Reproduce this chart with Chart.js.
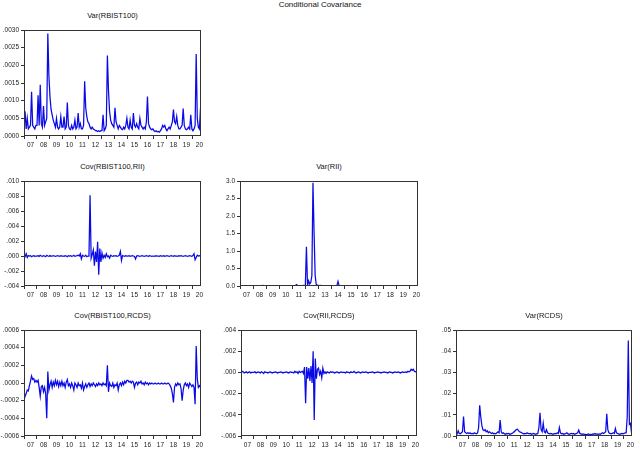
<!DOCTYPE html>
<html><head><meta charset="utf-8">
<script src="https://cdn.jsdelivr.net/npm/chart.js@4.4.0/dist/chart.umd.min.js"></script>
<style>
body{margin:0;background:#fff;width:640px;height:449px;overflow:hidden;position:relative;font-family:"Liberation Sans",Arial,sans-serif;}
.ttl{position:absolute;font-size:7.5px;line-height:8px;color:#111;text-align:center;white-space:nowrap;}
canvas{position:absolute;}
</style></head><body>
<div class="ttl" style="left:0;width:640px;top:1px;font-size:8px;">Conditional Covariance</div>
<script>
// ---- categories ----
const yearLabels = ['07','08','09','10','11','12','13','14','15','16','17','18','19','20'];
const firstYear = 2007;
const months = [];
for (let i = 0; i < 164; i++) months.push(firstYear + i / 12);

// ---- series (monthly) ----
// Var(RBIST100), x1e-4
const varRBIST100 = [
 2,7,2,5,2,2.5,3,12.5,3,2.5,2,3,
 3,11.5,3,14.5,3.5,2.5,8.5,3,4,5,29,17,
 11,7.5,6,4.5,3.5,2.5,5,2.5,2,2.5,5.5,2.5,
 2.5,5.5,2,2.5,9.5,3,2,1.8,3,2,2.5,4.5,
 2,2.5,6.5,2.5,3.5,2,2,3,15.5,8,5.5,4,
 3.5,2.5,2,2.5,2,1.8,1.5,1.5,1.3,1.5,1.3,1.5,
 1.5,6,1.5,2,3,22.8,13,7,4.5,3.5,3,2.5,
 8,4,3,2,3,2.5,2,1.8,2.5,2,3,5,
 2.5,2,4.5,2.5,2,6.5,3,2.5,3.5,2.5,2,5,
 3,2.5,2,2.5,2,4,11.2,3.5,2.5,2,1.8,2,
 1.5,1.3,1.5,1.2,1.3,1.1,1.5,2,3,2.5,3,2,
 1.5,2,2.5,2,3,4,7.5,4,3.5,5.5,3,2,
 2,2.5,3,7.8,3,2,1.8,2,2.5,2,6,2,
 1.5,2,3,23.2,5,2.5,2,8
];
// Cov(RBIST100,RII), x1e-3
const covRBIST100_RII = [
 0.1,-0.1,0.3,-0.2,0.05,0,0.05,-0.1,0,0.05,-0.05,0,
 0,0.05,-0.05,0.1,0,-0.05,0.05,0,-0.1,0.1,0,-0.05,
 0.05,-0.05,0,0.05,0,-0.05,0,0.05,0,-0.05,0.05,0,
 0,-0.05,0.05,0,-0.1,0.05,0,0.05,-0.05,0,0.1,-0.05,
 0,0.05,0.1,0,0.3,-0.4,0.1,0,-0.05,0.1,-0.1,0,
 0,8.1,-0.3,0.2,0.8,-1.3,0.6,-0.8,1.9,-2.5,1.0,-0.8,
 0.4,-0.3,0.1,-0.2,0.3,-0.1,0,-0.3,0.1,0,-0.05,0.05,
 0,0.05,-0.05,0,0.1,0.6,-0.6,0.05,0,-0.05,0.05,0,
 0,0.05,-0.05,0,0.05,0,-0.05,-0.4,0,0.05,0,-0.05,
 0,0.05,0,-0.05,0,0.05,0,-0.05,0.05,0,-0.05,0,
 0,-0.05,0.05,0,0,-0.05,0.05,0,0,0.05,-0.05,0,
 0.05,0,-0.05,0,0.05,0,-0.05,0.05,0,0,-0.05,0.05,
 0,0.05,0,-0.05,0,0.05,0,-0.05,0,0.05,0,-0.05,
 0.05,0.3,-0.5,-0.2,0.1,0,0.05,0
];
// Var(RII)
const varRII = [
 0.01,0.01,0.01,0.01,0.01,0.01,0.01,0.01,0.01,0.01,0.01,0.01,
 0.01,0.01,0.01,0.01,0.01,0.01,0.01,0.01,0.01,0.02,0.01,0.01,
 0.01,0.01,0.01,0.01,0.01,0.01,0.01,0.01,0.01,0.01,0.01,0.01,
 0.01,0.01,0.01,0.01,0.01,0.01,0.01,0.01,0.01,0.01,0.01,0.01,
 0.01,0.01,0.01,0.02,0.04,0.01,0.01,0.01,0.01,0.01,0.02,0.01,
 0.02,1.12,0.01,0.15,0.06,0.1,0.3,2.95,1.55,0.3,0.05,0.02,
 0.02,0.01,0.02,0.01,0.01,0.01,0.01,0.01,0.01,0.01,0.01,0.01,
 0.01,0.01,0.01,0.01,0.01,0.02,0.13,0.01,0.01,0.01,0.01,0.01,
 0.01,0.01,0.01,0.01,0.01,0.01,0.01,0.01,0.01,0.01,0.01,0.01,
 0.01,0.01,0.01,0.01,0.01,0.01,0.01,0.01,0.01,0.01,0.01,0.01,
 0.01,0.01,0.01,0.01,0.01,0.01,0.01,0.01,0.01,0.01,0.01,0.01,
 0.01,0.01,0.01,0.01,0.01,0.01,0.01,0.01,0.01,0.01,0.01,0.01,
 0.01,0.01,0.01,0.01,0.01,0.01,0.01,0.01,0.01,0.01,0.01,0.01,
 0.01,0.01,0.01,0.01,0.01,0.01,0.01,0.01
];
// Cov(RBIST100,RCDS), x1e-4
const covRBIST100_RCDS = [
 -1.9,-1.5,-1.2,-0.8,-0.9,-0.3,0.2,0.8,0.4,0.5,0.1,0.3,
 0.1,0.3,-0.5,-1.5,-0.4,-0.3,-1.0,-0.5,-1.2,-4.0,1.3,-0.8,
 -0.2,0.2,-0.5,0.1,-0.3,0.3,-0.2,0.2,-0.4,0.1,-0.3,0.2,
 -0.3,0,-0.5,0.1,0.4,-0.3,-0.1,-0.5,0,-0.3,-0.8,0,
 -0.2,-0.5,0,-0.3,-0.2,-0.6,0,-0.8,-0.4,-0.1,-0.5,-0.2,
 0,-0.4,-0.1,-0.3,0,-0.2,-0.4,-0.1,-0.3,0,-0.2,-0.1,
 -0.3,0,-0.2,-0.1,-0.3,2.0,-1.0,0,-0.3,-0.4,0,-0.5,
 -0.2,-0.3,0,-0.8,-0.2,0,-0.3,0.1,-0.2,0.2,0,0.3,
 0.3,0.1,0.2,0,0.2,0.1,-0.5,0,0.1,-0.2,0.1,0,
 0.2,-0.1,0,-0.2,0.1,-0.1,0,-0.2,0,-0.1,0,-0.1,
 -0.1,0,-0.1,-0.1,0,-0.1,-0.1,0,-0.1,-0.1,0,-0.1,
 -0.1,0,-0.1,-0.3,-0.6,-1.2,-2.2,-0.5,-0.1,-0.3,0,-0.2,
 -0.1,-0.6,-2.0,-0.8,-0.2,0,-0.3,-0.1,-0.5,0,-0.2,-0.4,
 -0.2,-0.5,-2.4,4.2,0.5,-0.5,-0.3,-0.5
];
// Cov(RII,RCDS), x1e-3
const covRII_RCDS = [
 0,0.1,0.05,-0.05,0,0.05,-0.05,0,0.05,-0.05,0,0,
 0,0.05,-0.05,0,0.05,0,-0.05,0.05,0,-0.1,0.05,0,
 0,-0.05,0,0.05,0,-0.05,0,0,0.05,0,-0.05,0,
 0,0.05,0,-0.05,0,0,0.05,0,-0.05,0,0.05,0,
 0,-0.05,0.1,0,0.05,-0.1,0.1,0,0.05,0.1,-0.1,0.5,
 -2.9,0.5,-0.6,0.4,-0.8,0.6,-1.0,2.0,-4.5,1.3,-0.6,0.3,
 0.4,-0.2,0.1,-0.5,0.4,-0.1,0.05,-0.1,0.05,0,-0.05,0.05,
 0,0.05,0,-0.05,0,0.05,0,-0.05,0,0.05,0,0,
 0,-0.05,0.05,0,0,-0.05,0.05,0,0,0.1,0,-0.05,
 0,0.05,0,-0.05,0,0.05,0,0,0.05,0,-0.05,0,
 0,0,0.05,0,-0.05,0,0,0.05,0,0,-0.05,0,
 0,0.05,0,0,-0.05,0,0.05,0,0,-0.05,0,0.05,
 0,0,0.05,0,-0.05,0,0.05,0,0,0.05,0,0.1,
 0.05,0.1,0.3,0.2,0.3,0.1,0.05,0.1
];
// Var(RCDS), x1e-3
const varRCDS = [
 1.5,1,2.5,1.2,1,1.5,2,9.2,2,1.5,1.2,1.5,
 1.2,1.5,1,1.2,1,1.5,1.2,1,1.5,4,14.5,9,
 5,3,2.5,3,2,2.5,1.5,2,1.5,1.2,1.5,1,
 1.2,1,1.5,2,1.5,7.5,2,1.2,1.5,1,0.8,1.2,
 1,1.2,0.8,1,1.2,1.5,2,2.5,3,3.2,2.5,2,
 1.8,1.5,1.2,1,1.2,1,1.5,1.2,1,1.2,0.8,1,
 1.2,1,0.8,1,1.2,4,11,3,2,6,2,1.5,
 3,1.5,1.2,1,1.2,1,0.8,1,1.2,1,1.5,1.2,
 4,1.5,1,1.2,0.8,1,1.2,1.5,1,0.8,1,1.2,
 1,1.2,0.8,1,1.2,1.5,2.8,1.2,1,0.8,1,0.8,
 0.8,0.7,0.8,1,0.7,0.8,0.7,1,0.8,1.2,0.8,1,
 0.8,1,0.8,1.2,1.5,1.2,1.5,2,10.5,3,1.5,1.2,
 1,1.2,1.5,1.2,3.5,1.5,1.2,1,0.8,1,1.2,1,
 1.2,1.5,1.5,9,45,5.5,6,1.5
];

// ---- tick labels ----
const ticksP1 = [0,0.0005,0.001,0.0015,0.002,0.0025,0.003];
const labelsP1 = ['.0000','.0005','.0010','.0015','.0020','.0025','.0030'];
const ticksP2 = [-0.004,-0.002,0,0.002,0.004,0.006,0.008,0.010];
const labelsP2 = ['-.004','-.002','.000','.002','.004','.006','.008','.010'];
const ticksP3 = [0,0.5,1,1.5,2,2.5,3];
const labelsP3 = ['0.0','0.5','1.0','1.5','2.0','2.5','3.0'];
const ticksP4 = [-0.0006,-0.0004,-0.0002,0,0.0002,0.0004,0.0006];
const labelsP4 = ['-.0006','-.0004','-.0002','.0000','.0002','.0004','.0006'];
const ticksP5 = [-0.006,-0.004,-0.002,0,0.002,0.004];
const labelsP5 = ['-.006','-.004','-.002','.000','.002','.004'];
const ticksP6 = [0,0.01,0.02,0.03,0.04,0.05];
const labelsP6 = ['.00','.01','.02','.03','.04','.05'];

// ---- panels ----
const panels = [
 {title:'Var(RBIST100)', data:varRBIST100, unit:1e-4, ticks:ticksP1, labels:labelsP1, box:[24,30,201,136]},
 {title:'Cov(RBIST100,RII)', data:covRBIST100_RII, unit:1e-3, ticks:ticksP2, labels:labelsP2, box:[24,181,201,286]},
 {title:'Var(RII)', data:varRII, unit:1, ticks:ticksP3, labels:labelsP3, box:[240,181,418,286]},
 {title:'Cov(RBIST100,RCDS)', data:covRBIST100_RCDS, unit:1e-4, ticks:ticksP4, labels:labelsP4, box:[24,330,201,436]},
 {title:'Cov(RII,RCDS)', data:covRII_RCDS, unit:1e-3, ticks:ticksP5, labels:labelsP5, box:[241,330,417,436]},
 {title:'Var(RCDS)', data:varRCDS, unit:1e-3, ticks:ticksP6, labels:labelsP6, box:[456,330,632,436]}
];

const AXIS = '#333';
const framePlugin = {
  id:'frame',
  afterDatasetsDraw(chart){
    const {ctx, chartArea:a} = chart;
    ctx.save();
    ctx.strokeStyle = AXIS; ctx.lineWidth = 1;
    ctx.strokeRect(Math.round(a.left)+0.5, Math.round(a.top)+0.5, Math.round(a.right-a.left)-1, Math.round(a.bottom-a.top)-1);
    ctx.restore();
  }
};

const PADL = 40, PADT = 6, PADR = 8, PADB = 18;
const tickFont = {family:'"Liberation Sans", Arial, sans-serif', size:6.5};

panels.forEach((p) => {
  const [L,T,R,B] = p.box;
  const t = document.createElement('div');
  t.className = 'ttl';
  t.style.left = (L - 40) + 'px';
  t.style.width = (R - L + 80) + 'px';
  t.style.top = (T - 18) + 'px';
  t.textContent = p.title;
  document.body.appendChild(t);

  const c = document.createElement('canvas');
  const W = R - L + PADL + PADR, H = B - T + PADT + PADB;
  c.width = W; c.height = H;
  c.style.left = (L - PADL) + 'px'; c.style.top = (T - PADT) + 'px';
  c.style.width = W + 'px'; c.style.height = H + 'px';
  document.body.appendChild(c);

  new Chart(c, {
    type:'line',
    data:{datasets:[{
      data: p.data.map((v,i) => ({x: months[i], y: v * p.unit})),
      borderColor:'#0a0ae6', borderWidth:1.25, pointRadius:0, tension:0, fill:false
    }]},
    options:{
      responsive:false, animation:false, devicePixelRatio:1,
      layout:{padding:{left:0, top:PADT, right:PADR, bottom:0}},
      plugins:{legend:{display:false}, tooltip:{enabled:false}, title:{display:false}},
      scales:{
        x:{
          type:'linear', min:2007, max:2020.62,
          afterBuildTicks(s){
            const tk = [];
            for (let y = 2007; y <= 2020; y++) { tk.push({value:y}); tk.push({value:y+0.5}); }
            s.ticks = tk;
          },
          afterFit(s){ s.height = PADB; },
          ticks:{
            autoSkip:false, maxRotation:0, minRotation:0, padding:2, color:'#222', font:tickFont,
            callback(v){ const f = v - Math.floor(v); return Math.abs(f-0.5) < 1e-6 ? yearLabels[Math.floor(v)-2007] : ''; }
          },
          grid:{
            drawOnChartArea:false, drawTicks:true, tickLength:3,
            tickColor:(ctx) => (ctx.tick && Math.abs(ctx.tick.value - Math.round(ctx.tick.value)) < 1e-6) ? AXIS : 'rgba(0,0,0,0)'
          },
          border:{display:false}
        },
        y:{
          type:'linear', min:p.ticks[0], max:p.ticks[p.ticks.length-1],
          afterBuildTicks(s){ s.ticks = p.ticks.map(v => ({value:v})); },
          afterFit(s){ s.width = PADL; },
          ticks:{ padding:2, color:'#222', font:tickFont, callback(v, i){ return p.labels[i]; } },
          grid:{ drawOnChartArea:false, drawTicks:true, tickLength:3, tickColor:AXIS },
          border:{display:false}
        }
      }
    },
    plugins:[framePlugin]
  });
});
</script>
</body></html>
